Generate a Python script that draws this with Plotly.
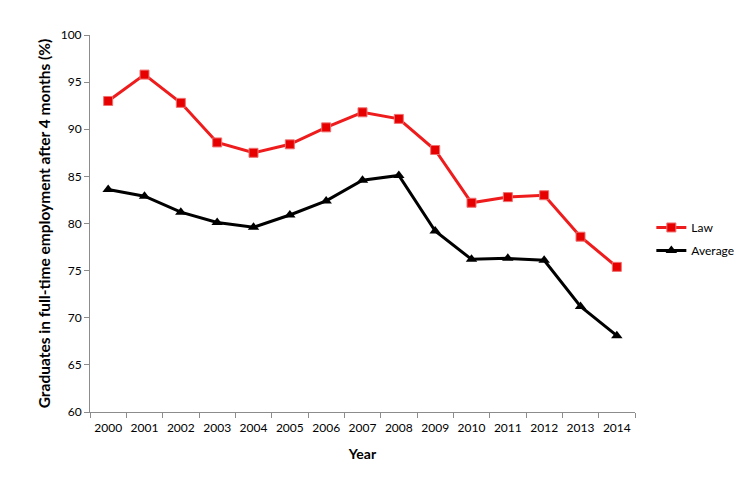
import plotly.graph_objects as go

# --- data ---
years = [str(y) for y in range(2000, 2015)]
law = [93.0, 95.8, 92.8, 88.6, 87.5, 88.4, 90.2, 91.8, 91.1, 87.8,
       82.2, 82.8, 83.0, 78.6, 75.4]
average = [83.6, 82.9, 81.2, 80.1, 79.6, 80.9, 82.4, 84.6, 85.1, 79.2,
           76.2, 76.3, 76.1, 71.2, 68.1]
y_ticks = [60, 65, 70, 75, 80, 85, 90, 95, 100]

FONT = "Lato, Open Sans, sans-serif"

fig = go.Figure()

fig.add_trace(go.Scatter(
    x=years, y=law, name="Law", mode="lines+markers", legendgroup="law",
    line=dict(color="#ee1c1c", width=3),
    marker=dict(symbol="square", size=9, color="#e60000",
                line=dict(color="#f07070", width=1)),
))

fig.add_trace(go.Scatter(
    x=years, y=average, name="Average", mode="lines+markers", legendgroup="avg",
    line=dict(color="black", width=3),
    marker=dict(symbol="triangle-up", size=10, color="black"),
))

# page body has an 8px margin, so the figure is a bit smaller than the window
fig.update_layout(
    width=726, height=461,
    margin=dict(l=82, r=99, t=27, b=57, autoexpand=False),
    plot_bgcolor="white", paper_bgcolor="white",
    font=dict(family=FONT, size=12, color="black"),
    showlegend=True,
    legend=dict(x=1.03, y=0.459, xanchor="left", yanchor="middle",
                font=dict(size=12), itemwidth=30, tracegroupgap=4),
    xaxis=dict(
        type="category", tickson="boundaries", tickangle=0,
        range=[-0.5, len(years) - 0.5],
        showline=True, linecolor="#8c8c8c", linewidth=1,
        ticks="outside", ticklen=5, tickcolor="#8c8c8c",
        ticklabelstandoff=5,
        showgrid=False, zeroline=False, automargin=False,
        title=dict(text="<b>Year</b>", font=dict(size=14), standoff=14),
        tickfont=dict(size=12),
    ),
    yaxis=dict(
        range=[60, 100], tickvals=y_ticks,
        showline=True, linecolor="#8c8c8c", linewidth=1,
        ticks="outside", ticklen=5, tickcolor="#8c8c8c",
        showgrid=False, zeroline=False, automargin=False,
        title=dict(text="<b>Graduates in full-time employment after 4 months (%)</b>",
                   font=dict(size=15.5), standoff=6),
        tickfont=dict(size=12),
    ),
)

fig.write_html("out.html")
